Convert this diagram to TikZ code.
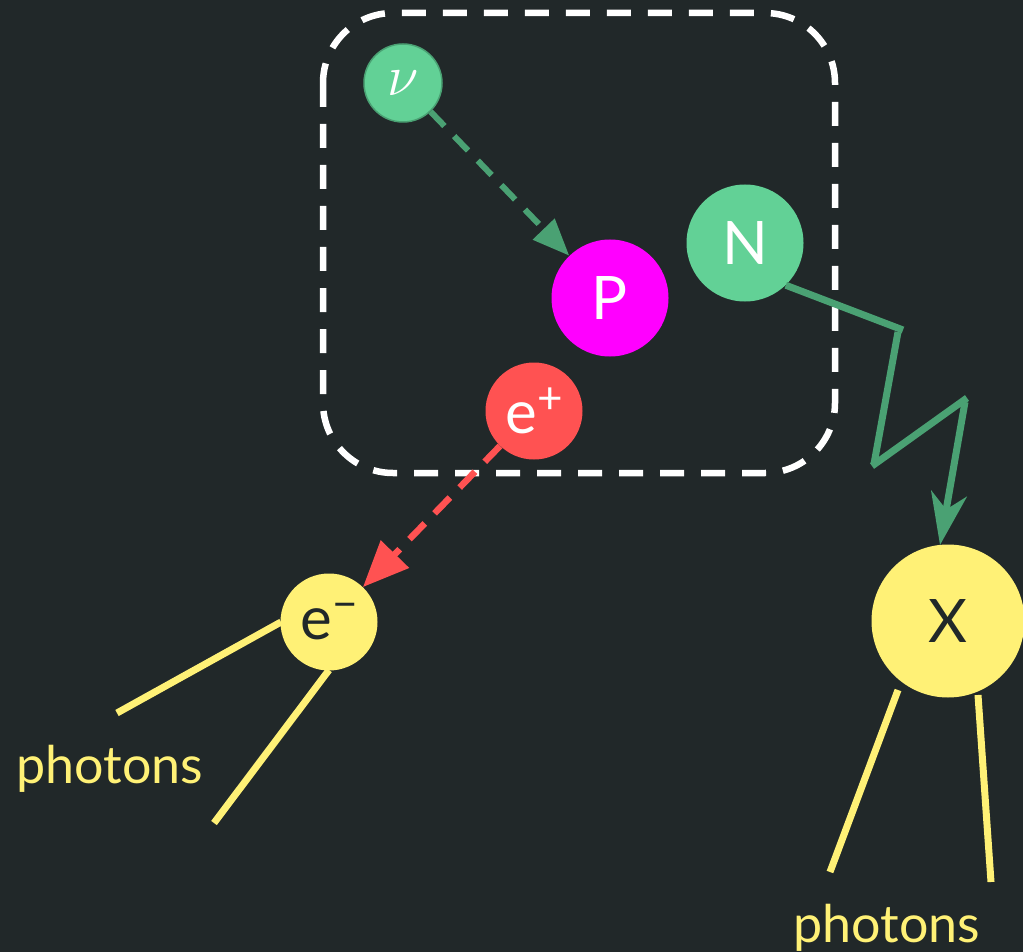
\documentclass[tikz,border=0pt]{standalone}
\usepackage{fontspec}
\setmainfont{Lato}
\usetikzlibrary{arrows.meta}
\definecolor{bg}{HTML}{212829}
\definecolor{nugreen}{HTML}{62D196}
\definecolor{dkgreen}{HTML}{4AA173}
\definecolor{magent}{HTML}{FF00FF}
\definecolor{posred}{HTML}{FF5252}
\definecolor{ylw}{HTML}{FFF176}
\definecolor{dktext}{HTML}{212829}
\tikzset{
  particle/.style={circle, inner sep=0pt, font=\fontsize{60}{60}\selectfont},
  photon/.style={draw=ylw, line width=7pt},
  lbl/.style={text=ylw, font=\fontsize{52}{52}\selectfont, inner sep=0pt, anchor=base},
  zig/.style={draw=dkgreen, line width=7pt, line cap=butt},
}
\begin{document}
\begin{tikzpicture}[x=1pt,y=-1pt]
\fill[bg] (0,0) rectangle (1023,952);
\useasboundingbox (0,0) rectangle (1023,952);
% dashed box
\draw[white, line width=6.5pt, dash pattern=on 24pt off 17pt, rounded corners=70pt] (323,13) rectangle (835,473);
% particles
\node[particle, fill=nugreen, draw=dkgreen, line width=1.5pt, minimum size=78pt] (nu) at (403,83) {\scalebox{2.3}{$\color{white}\nu$}};
\node[particle, fill=magent, minimum size=117pt, text=white] (P) at (610,298) {P};
\node[particle, fill=nugreen, minimum size=117pt, text=white] (N) at (745,243) {N};
\node[particle, fill=posred, minimum size=97pt, text=white] (ep) at (534,411) {e\raisebox{20pt}{\fontsize{44}{44}\selectfont +}};
\node[particle, fill=ylw, minimum size=97pt, text=dktext] (em) at (329,622) {e\raisebox{20pt}{\fontsize{44}{44}\selectfont \textminus}};
\node[particle, fill=ylw, minimum size=153pt, text=dktext] (X) at (948,621) {X};
% nu -> P
\draw[dkgreen, line width=6pt, dash pattern=on 20pt off 14pt, -{Triangle[length=37pt, width=29pt]}] (nu) -- (P);
% e+ -> e-
\draw[posred, line width=6.5pt, dash pattern=on 22pt off 14pt, -{Triangle[length=46pt, width=38pt]}] (ep) -- (em);
% zigzag N -> X
\coordinate (z1) at (903,330);
\coordinate (z2) at (874,464);
\coordinate (z3) at (967,398);
\coordinate (xt) at (940,545);
\draw[zig] (N.-46) -- (z1);
\draw[zig] (898,332) -- (z2);
\draw[zig] (872,466) -- (z3);
\draw[zig, -{Stealth[length=52pt, width=36pt, inset=16pt]}] (965,402) -- (xt);
% photons
\coordinate (pa) at (117,713);
\coordinate (pb) at (214,823);
\coordinate (pc) at (830,872);
\coordinate (pd) at (991,882);
\draw[photon] (281,622) -- (pa);
\draw[photon] (329,670) -- (pb);
\draw[photon] (898,690) -- (pc);
\draw[photon] (978,695) -- (pd);
\node[lbl] (t1) at (110,783) {photons};
\node[lbl] (t2) at (887,942) {photons};
\end{tikzpicture}
\end{document}
